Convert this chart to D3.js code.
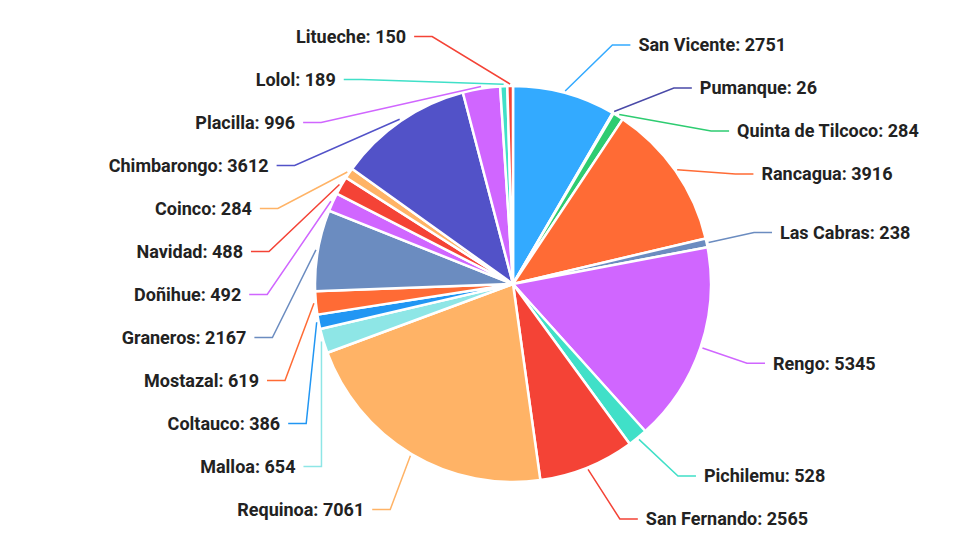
<!DOCTYPE html><html><head><meta charset="utf-8">
<script src="https://cdn.jsdelivr.net/npm/d3@7"></script>
<style>body{margin:0;background:#fff}</style></head><body>
<svg id="c" width="959" height="546"></svg>
<script>
const categories=["San Vicente","Pumanque","Quinta de Tilcoco","Rancagua","Las Cabras","Rengo","Pichilemu","San Fernando","Requinoa","Malloa","Coltauco","Mostazal","Graneros","Doñihue","Navidad","Coinco","Chimbarongo","Placilla","Lolol","Litueche"];
const values=[2751,26,284,3916,238,5345,528,2565,7061,654,386,619,2167,492,488,284,3612,996,189,150];
const colors=["#33aaff","#4a4aa8","#2ecc71","#ff6b35","#6b8cc0","#d066ff","#40e0c8","#f44336","#ffb366","#8ee6e6","#2196f3","#ff6b35","#6b8cc0","#d066ff","#f44336","#ffb366","#5252c8","#d066ff","#40e0c8","#f44336"];
const svg=d3.select("#c"),cx=513,cy=284,R=198;
const g=svg.append("g").attr("transform",`translate(${cx},${cy})`);
const data=categories.map((c,i)=>({c,v:values[i],col:colors[i]}));
const arcs=d3.pie().value(d=>d.v).sort(null)(data);
const arc=d3.arc().innerRadius(0).outerRadius(R);
g.selectAll("path").data(arcs).join("path").attr("d",arc).attr("fill",d=>d.data.col).attr("stroke","#fff").attr("stroke-width",2.5);
const L=arcs.map(a=>{const m=(a.startAngle+a.endAngle)/2;const s=Math.sin(m)>=0?1:-1;
 return {a,m,side:(m<0.03||m>6.25)?-1:s,y:-R*1.25*Math.cos(m)};});
[1,-1].forEach(side=>{const arr=L.filter(l=>l.side===side).sort((p,q)=>p.y-q.y);
 const top=-cy+30,bot=546-cy-27,gap=43;
 for(let k=0;k<6;k++){for(let i=0;i<arr.length;i++){if(i==0)arr[i].y=Math.max(arr[i].y,top);else arr[i].y=Math.max(arr[i].y,arr[i-1].y+gap);}
 for(let i=arr.length-1;i>=0;i--){if(i==arr.length-1)arr[i].y=Math.min(arr[i].y,bot);else arr[i].y=Math.min(arr[i].y,arr[i+1].y-gap);}}});
const TR=268;
L.forEach(l=>{const ax=(R+2)*Math.sin(l.m),ay=-(R+2)*Math.cos(l.m);
 let tx=l.side*Math.sqrt(Math.max(TR*TR-l.y*l.y,0));
 if(Math.abs(tx)<30) tx=ax+l.side*22;
 let bx=tx-l.side*22;
 if(l.side*bx<l.side*ax) bx=ax;
 const cxp=bx+l.side*18;
 g.append("path").attr("d",`M${ax},${ay}L${bx},${l.y}L${cxp},${l.y}`).attr("fill","none").attr("stroke",colors[l.a.index]).attr("stroke-width",1.5);
 g.append("text").attr("x",cxp+l.side*8).attr("y",l.y).attr("dy","0.35em").attr("text-anchor",l.side>0?"start":"end")
  .attr("font-family","Roboto, sans-serif").attr("font-weight","bold").attr("font-size",18).attr("fill","#222")
  .text(`${l.a.data.c}: ${l.a.data.v}`);});
</script></body></html>
